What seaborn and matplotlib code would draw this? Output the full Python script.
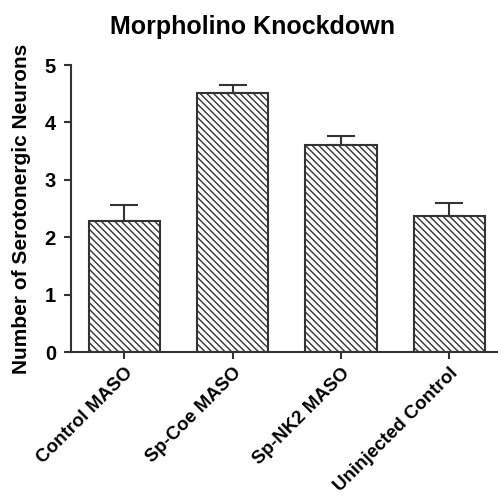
import numpy as np
import pandas as pd
import matplotlib
matplotlib.use("Agg")
import matplotlib.pyplot as plt
import seaborn as sns

# data
groups = ["Control MASO", "Sp-Coe MASO", "Sp-NK2 MASO", "Uninjected Control"]
means = [2.29, 4.51, 3.61, 2.37]
sem = [0.27, 0.15, 0.16, 0.23]

df = pd.DataFrame({"group": groups, "mean": means})

sns.set_style("ticks")
plt.rcParams["font.family"] = ["Liberation Sans", "DejaVu Sans"]
plt.rcParams["hatch.linewidth"] = 1.0
plt.rcParams["hatch.color"] = "#222222"
plt.rcParams["text.color"] = "black"
plt.rcParams["xtick.labelcolor"] = "black"
plt.rcParams["ytick.labelcolor"] = "black"

fig = plt.figure(figsize=(4.98, 5.0), dpi=100)
ax = fig.add_axes([0.143, 0.296, 0.855, 0.574])

sns.barplot(data=df, x="group", y="mean", color="white", width=0.66,
            edgecolor="#333333", linewidth=1.5, errorbar=None, ax=ax)
for p in ax.patches:
    p.set_hatch("\\\\\\\\\\")
    p.set_facecolor("white")

# upper error bars only
ax.errorbar(np.arange(len(groups)), means, yerr=[np.zeros(len(sem)), sem],
            fmt="none", ecolor="#333333", elinewidth=1.5, capsize=10, capthick=1.5)

ax.set_ylim(0, 5)
ax.set_xlim(-0.49, 3.44)
ax.set_yticks([0, 1, 2, 3, 4, 5])
ax.set_xlabel("")
ax.set_ylabel("Number of Serotonergic Neurons", fontsize=15, fontweight="bold",
              labelpad=10, color="black")
# title centred on the figure rather than the axes
ax.set_title("Morpholino Knockdown", fontsize=18, fontweight="bold", pad=22,
             color="black", x=(0.508 - 0.143) / 0.855)

ax.tick_params(axis="both", width=1.5, length=5, color="#333333", pad=6)
ax.tick_params(axis="y", labelsize=14.5)
ax.tick_params(axis="x", labelsize=13.5, pad=4)
for lab in ax.get_yticklabels():
    lab.set_fontweight("bold")
for lab in ax.get_xticklabels():
    lab.set_fontweight("bold")
    lab.set_rotation(45)
    lab.set_ha("right")
    lab.set_rotation_mode("anchor")

for s in ["left", "bottom"]:
    ax.spines[s].set_linewidth(1.5)
    ax.spines[s].set_color("#333333")
sns.despine(ax=ax)

fig.savefig("out.png", dpi=100)
plt.close()
